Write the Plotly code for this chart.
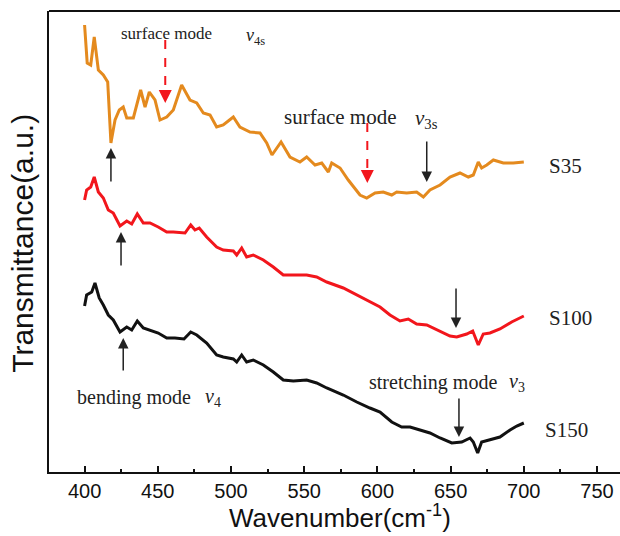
import plotly.graph_objects as go

# ---- data ----
wn_s35 = [400.0, 401.8, 404.2, 406.6, 409.4, 412.8, 415.8, 418.0, 420.8, 423.7, 426.4, 428.8, 433.3,
          438.3, 441.3, 444.2, 448.1, 451.5, 456.1, 460.6, 466.3, 472.0, 476.6, 481.1, 485.7, 490.2,
          494.7, 501.6, 506.1, 513.0, 519.8, 524.4, 528.0, 534.2, 540.3, 547.1, 551.7, 557.4, 562.0,
          566.5, 568.8, 574.5, 580.1, 588.1, 592.7, 598.4, 604.0, 609.8, 613.2, 620.0, 626.8, 631.4,
          635.9, 642.8, 649.6, 656.4, 662.1, 665.5, 668.9, 671.2, 674.7, 679.2, 686.0, 692.8, 700.0]
t_s35 = [447, 409, 407, 435, 402, 397, 390, 329, 352, 362, 365, 354, 354, 382, 365, 380, 372, 352,
         355, 362, 387, 372, 369, 359, 357, 345, 347, 355, 345, 340, 339, 329, 317, 330, 315, 310,
         315, 307, 309, 300, 309, 304, 292, 277, 274, 279, 280, 277, 280, 279, 280, 275, 282, 287,
         295, 299, 295, 297, 310, 304, 307, 312, 309, 309, 310]

wn_s100 = [400.0, 401.4, 404.2, 406.6, 409.4, 412.8, 416.2, 419.6, 424.2, 428.8, 432.2, 436.0, 440.1,
           444.7, 450.3, 456.1, 460.6, 468.6, 472.5, 475.4, 478.3, 483.4, 490.2, 494.7, 501.6, 503.9,
           507.3, 510.7, 515.2, 522.1, 528.9, 535.7, 542.6, 551.7, 558.5, 565.4, 576.7, 585.9, 594.9,
           601.8, 608.6, 615.4, 621.1, 626.8, 633.7, 640.5, 649.6, 654.2, 661.0, 665.1, 668.9, 672.3,
           676.9, 683.7, 691.7, 700.0]
t_s100 = [272, 282, 285, 295, 280, 274, 262, 259, 246, 251, 248, 258, 249, 249, 245, 240, 240, 239,
          247, 242, 244, 235, 225, 222, 221, 217, 224, 215, 217, 212, 205, 197, 197, 197, 195, 190,
          184, 177, 170, 165, 157, 151, 153, 148, 147, 142, 136, 135, 138, 141, 127, 138, 139, 143,
          150, 156]

wn_s150 = [400.0, 401.4, 404.9, 407.1, 410.0, 412.8, 416.2, 419.6, 424.2, 428.8, 432.2, 436.0, 440.1,
           444.7, 450.3, 456.1, 461.7, 467.9, 472.5, 476.6, 483.4, 490.2, 494.7, 501.6, 503.9, 507.3,
           510.7, 515.2, 522.1, 528.9, 535.7, 542.6, 551.7, 558.5, 565.4, 576.7, 585.9, 594.9, 601.8,
           609.8, 616.6, 622.3, 629.1, 635.9, 642.8, 650.8, 657.6, 663.3, 665.5, 668.5, 671.2, 676.9,
           683.7, 690.6, 695.2, 700.0]
t_s150 = [166, 177, 180, 189, 174, 167, 157, 152, 140, 145, 142, 151, 144, 142, 139, 134, 134, 133,
          140, 137, 129, 117, 115, 113, 110, 117, 110, 112, 107, 100, 92, 91, 92, 89, 84, 77, 70, 64,
          60, 50, 45, 45, 42, 39, 34, 29, 30, 34, 30, 19, 30, 32, 35, 42, 46, 49]

x_ticks = [400, 450, 500, 550, 600, 650, 700, 750]
x_tick_labels = ["400", "450", "500", "550", "600", "650", "700", "750"]
sample_names = ["S35", "S100", "S150"]

# arrows: (wavenumber, tail value, head value)
black_arrows = [(418.0, 289, 324), (633.7, 332, 290), (424.9, 205, 240),
                (653.7, 185, 144), (426.4, 100, 134), (655.7, 75, 35)]
red_dashed_arrows = [(455.1, 432, 369), (593.1, 349, 289)]

ORANGE = "#E48A1E"
RED = "#F2161C"
BLACK = "#111111"

fig = go.Figure()
for wn, t, c, name in [(wn_s35, t_s35, ORANGE, sample_names[0]),
                       (wn_s100, t_s100, RED, sample_names[1]),
                       (wn_s150, t_s150, BLACK, sample_names[2])]:
    fig.add_trace(go.Scatter(x=wn, y=t, mode="lines", name=name,
                             line=dict(color=c, width=3), showlegend=False))

serif = "Liberation Serif, Times New Roman, serif"
sans = "Liberation Sans, Arial, sans-serif"

ann = []
def txt(x, y, s, size, xanchor="left"):
    ann.append(dict(x=x, y=y, xref="x", yref="y", text=s, showarrow=False,
                    xanchor=xanchor, yanchor="middle",
                    font=dict(family=serif, size=size, color="#222")))

txt(423.5, 439, "surface mode", 17)
txt(509.0, 436, "<i>ν</i><sub>4s</sub>", 18)
txt(534.6, 355, "surface mode", 21)
txt(624.0, 353, "<i>ν</i><sub>3s</sub>", 21)
txt(393.4, 75, "bending mode", 20)
txt(481.0, 75, "<i>ν</i><sub>4</sub>", 20)
txt(592.7, 90, "stretching mode", 20)
txt(688.5, 90, "<i>ν</i><sub>3</sub>", 20)
txt(715.6, 306, sample_names[0], 21)
txt(715.6, 154, sample_names[1], 21)
txt(713.1, 42, sample_names[2], 21)

for x, y0, y1 in black_arrows:
    ann.append(dict(x=x, y=y1, ax=x, ay=y0, xref="x", yref="y", axref="x", ayref="y",
                    text="", showarrow=True, arrowhead=2, arrowsize=1.4, arrowwidth=1.5,
                    arrowcolor="#222"))

shapes = []
for x, y0, y1 in red_dashed_arrows:
    direction = 1 if y0 > y1 else -1
    shapes.append(dict(type="line", xref="x", yref="y", x0=x, x1=x, y0=y0, y1=y1 + 6 * direction,
                       line=dict(color=RED, width=2, dash="dash")))
    ann.append(dict(x=x, y=y1, ax=x, ay=y1 + 9 * direction, xref="x", yref="y", axref="x",
                    ayref="y", text="", showarrow=True, arrowhead=2, arrowsize=1.3,
                    arrowwidth=2, arrowcolor=RED))

# top frame line
shapes.append(dict(type="line", xref="paper", yref="paper", x0=0, x1=1, y0=1, y1=1,
                   line=dict(color="#111", width=2)))

# axis titles
ann.append(dict(x=-0.0455, y=0.495, xref="paper", yref="paper", text="Transmittance(a.u.)",
                showarrow=False, textangle=-90, xanchor="center", yanchor="middle",
                font=dict(family=sans, size=30, color="#111")))
ann.append(dict(x=0.5105, y=-0.0965, xref="paper", yref="paper",
                text="Wavenumber(cm<sup>-1</sup>)", showarrow=False,
                xanchor="center", yanchor="middle",
                font=dict(family=sans, size=26, color="#111")))

fig.update_layout(
    width=620, height=536,
    margin=dict(l=49, r=0, t=11, b=64),
    paper_bgcolor="white", plot_bgcolor="white",
    annotations=ann, shapes=shapes,
    xaxis=dict(range=[375.7, 765.7], showgrid=False, zeroline=False,
               showline=True, linecolor="#111", linewidth=2,
               ticks="inside", ticklen=6, tickwidth=1.5, tickcolor="#111",
               tickvals=x_ticks, ticktext=x_tick_labels,
               tickfont=dict(family=sans, size=20, color="#111"),
               minor=dict(ticks="inside", ticklen=3, tickwidth=1.5, tickcolor="#111",
                          tickvals=[425, 475, 525, 575, 625, 675, 725])),
    yaxis=dict(range=[0, 461], showgrid=False, zeroline=False,
               showline=True, linecolor="#111", linewidth=2,
               showticklabels=False, ticks=""),
)

fig.write_html("out.html")
